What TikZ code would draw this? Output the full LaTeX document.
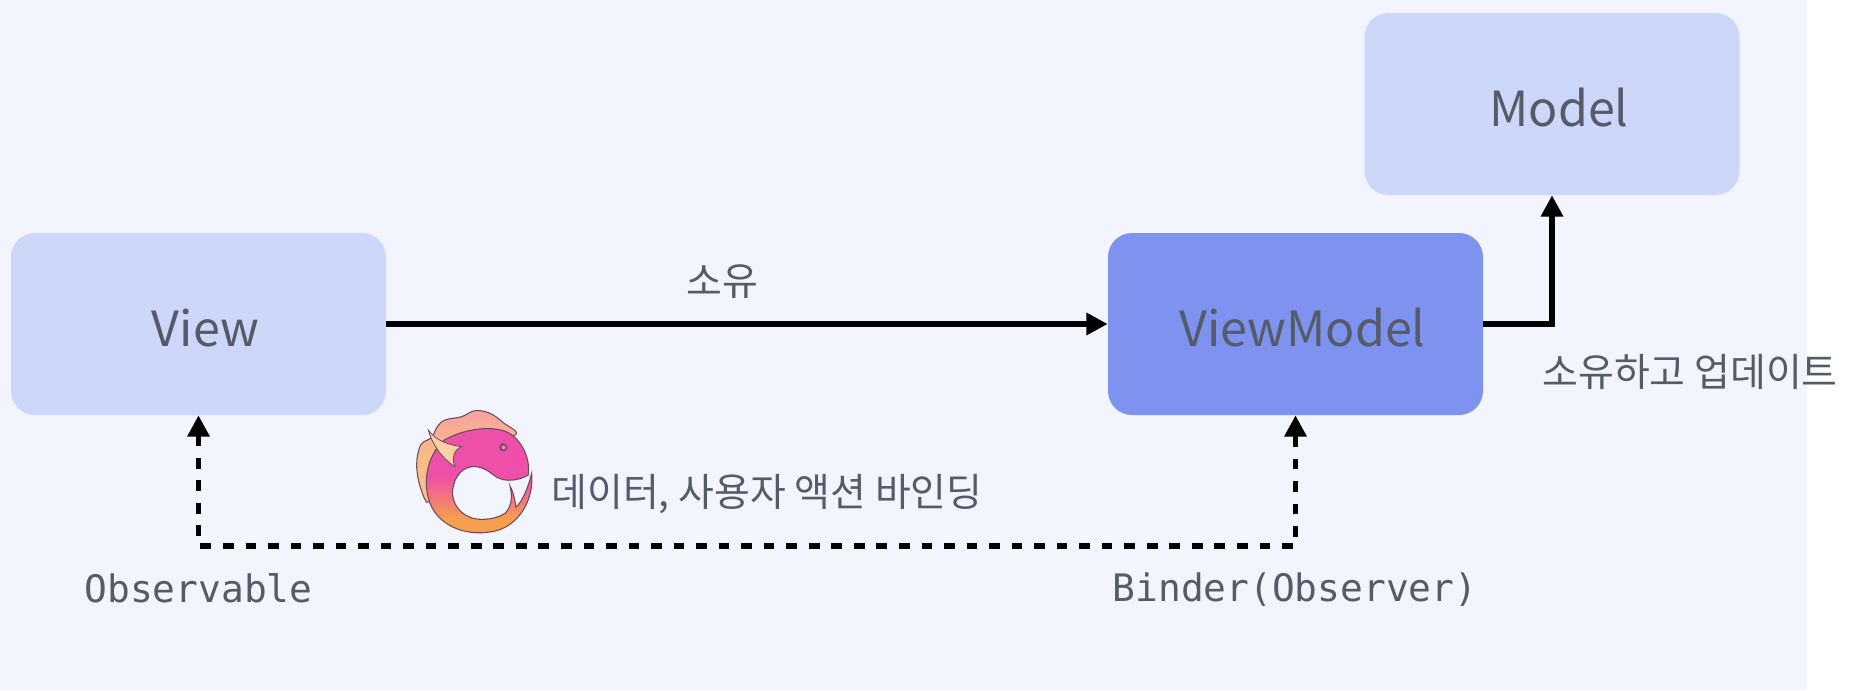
\documentclass[tikz,border=0pt]{standalone}
\usepackage{fontspec}
\setmainfont{Noto Sans CJK KR}
\setmonofont{DejaVu Sans Mono}
\usetikzlibrary{arrows.meta,positioning}
\definecolor{bgc}{HTML}{F2F5FE}
\definecolor{boxl}{HTML}{CDD7F9}
\definecolor{boxd}{HTML}{7D93EF}
\definecolor{txt}{HTML}{555B68}
\definecolor{rxpink}{HTML}{EE4FA8}
\definecolor{rxor}{HTML}{F6A04E}
\definecolor{rxline}{HTML}{6E4A5E}
\pgfdeclareverticalshading{rxbody}{100bp}{color(0bp)=(rxor); color(33bp)=(rxor); color(52bp)=(rxpink); color(100bp)=(rxpink)}
\pgfdeclareverticalshading{rxfin}{100bp}{color(0bp)=(rxor!60!white); color(50bp)=(rxor!70!white); color(75bp)=(rxpink!45!rxor!70!white); color(100bp)=(rxpink!45!rxor!70!white)}
\tikzset{
  x=0.75pt,y=-0.75pt,
  box/.style={rounded corners=18pt,minimum width=281.25pt,minimum height=136.5pt,inner sep=0pt,text=txt,text height=39pt,text depth=6pt,font=\fontsize{36.3}{40}\selectfont},
  light/.style={box,fill=boxl},
  dark/.style={box,fill=boxd},
  lbl/.style={text=txt,inner sep=0pt,font=\fontsize{29.2}{34}\selectfont},
  code/.style={text=txt,inner sep=0pt,font=\ttfamily\fontsize{28.4}{34}\selectfont},
  conn/.style={line width=3.9pt,-{Triangle[length=16pt,width=16pt]}},
  dconn/.style={line width=3.9pt,dash pattern=on 8pt off 8.9pt,{Triangle[length=16pt,width=16pt]}-{Triangle[length=16pt,width=16pt]}},
  fin/.style={draw=rxline,line width=0.8pt,shading=rxfin},
}
\begin{document}
\begin{tikzpicture}
\useasboundingbox (0,0) rectangle (1853,690);
\fill[white] (0,0) rectangle (1853,690);
\fill[bgc] (0,0) rectangle (1807,690);
\node[light] (view) at (198.5,324) {\hspace{10.5pt}View};
\node[dark] (vm) at (1295.5,324) {\hspace{10.5pt}ViewModel};
\node[light] (model) at (1552,104) {\hspace{10.5pt}Model};
\coordinate (bl) at (198.5,546);
\draw[conn] (view.east) -- (vm.west);
\draw[conn] (vm.east) -| (model.south);
\draw[dconn] (view.south) -- (bl) -| (vm.south);
\node[lbl] (own) at (722,282) {소유};
\node[lbl] (ownup) at (1690,372) {소유하고 업데이트};
\node[lbl] (bind) at (767,494) {데이터, 사용자 액션 바인딩};
\node[code] (obs) at (198.5,588) {Observable};
\node[code] (binder) at (1295,590) {Binder(Observer)};
% logo
\begin{scope}[shift={(400,400)},x=0.25pt,y=-0.25pt]
\draw[fin] plot[smooth cycle,tension=0.6] coordinates {(95,112)(112,80)(135,60)(185,50)(225,32)(270,40)(310,68)(345,105)(200,120)(120,190)(88,305)(62,265)(50,195)(62,135)};
\path[draw=rxline,line width=0.8pt,shading=rxbody]
 (130,122) .. controls (175,95) and (250,75) .. (310,92) .. controls (360,108) and (392,170) .. (385,225)
 .. controls (360,240) and (315,250) .. (285,228) .. controls (260,208) and (240,198) .. (215,200)
 .. controls (175,205) and (155,250) .. (158,285) .. controls (162,325) and (195,358) .. (245,358)
 .. controls (275,358) and (300,350) .. (315,340) .. controls (335,320) and (338,290) .. (330,258)
 .. controls (342,280) and (345,305) .. (348,322) .. controls (370,300) and (385,260) .. (395,220)
 .. controls (402,290) and (365,370) .. (290,392) .. controls (210,412) and (120,385) .. (90,310)
 .. controls (65,240) and (85,165) .. (130,122) -- cycle;
\fill[rxor!50!white,draw=rxline,line width=0.6pt] (85,90) .. controls (95,130) and (125,175) .. (165,200) .. controls (155,175) and (160,150) .. (185,140) .. controls (150,135) and (110,125) .. (85,90) -- cycle;
\fill[rxline] (310,142) circle (12);
\fill[rxpink!70!white] (311,142) circle (6);
\end{scope}
\end{tikzpicture}
\end{document}
